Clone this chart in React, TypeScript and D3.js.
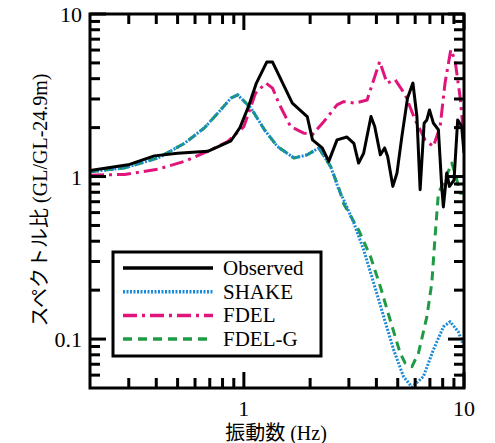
import * as d3 from "d3";
import { useEffect, useRef } from "react";

// данные (частота, Гц / спектральное отношение)
const observedFreq = [0.2, 0.298, 0.392, 0.5, 0.685, 0.874, 0.96, 1.05, 1.14, 1.27, 1.35, 1.66, 1.94, 2.05, 2.27, 2.43, 2.65, 2.94, 3.16, 3.32, 3.5, 3.78, 3.93, 4.17, 4.36, 4.5, 4.75, 4.96, 5.22, 5.54, 5.86, 6.11, 6.32, 6.59, 6.78, 6.97, 7.26, 7.65, 7.92, 8.06, 8.35, 8.59, 9.01, 9.36, 9.76, 10];
const observedRatio = [1.09, 1.18, 1.34, 1.39, 1.43, 1.66, 2.0, 2.7, 3.76, 5.06, 5.06, 2.83, 2.34, 1.68, 1.5, 1.24, 1.68, 1.75, 1.6, 1.21, 1.39, 2.34, 2.03, 1.36, 1.5, 1.33, 0.87, 1.05, 1.76, 3.04, 3.76, 2.34, 0.83, 2.13, 2.23, 2.57, 2.13, 1.94, 0.87, 0.65, 1.05, 0.87, 0.95, 2.23, 2.03, 1.4];

const shakeFreq = [0.2, 0.287, 0.407, 0.537, 0.661, 0.76, 0.874, 0.937, 1.076, 1.24, 1.42, 1.69, 1.94, 2.19, 2.48, 2.7, 2.84, 3.16, 3.5, 3.89, 4.32, 4.79, 5.31, 5.8, 6.54, 7.26, 8.06, 8.65, 9.42, 10];
const shakeRatio = [1.07, 1.13, 1.3, 1.6, 1.99, 2.45, 3.04, 3.18, 2.64, 1.94, 1.53, 1.3, 1.36, 1.5, 1.15, 0.83, 0.72, 0.517, 0.354, 0.221, 0.137, 0.0859, 0.0588, 0.0506, 0.0588, 0.0859, 0.119, 0.128, 0.111, 0.09];

const fdelFreq = [0.2, 0.287, 0.407, 0.537, 0.685, 0.844, 1.0, 1.13, 1.26, 1.35, 1.44, 1.63, 1.87, 2.05, 2.31, 2.65, 2.84, 3.21, 3.63, 3.89, 4.14, 4.47, 4.87, 5.41, 6.0, 6.66, 7.26, 7.79, 8.2, 8.71, 9.1, 9.59, 10];
const fdelRatio = [1.02, 1.03, 1.11, 1.24, 1.43, 1.64, 2.03, 3.26, 3.76, 3.5, 2.83, 2.03, 1.85, 1.81, 2.18, 2.76, 2.89, 2.83, 2.96, 3.94, 5.1, 3.76, 3.94, 3.18, 2.23, 1.68, 1.53, 2.03, 3.76, 6.02, 5.22, 3.11, 1.72];

const fdelgFreq = [0.2, 0.287, 0.407, 0.537, 0.661, 0.76, 0.874, 0.937, 1.076, 1.24, 1.42, 1.69, 1.94, 2.19, 2.48, 2.7, 2.84, 3.32, 3.76, 4.17, 4.62, 5.13, 5.41, 5.8, 6.21, 6.78, 7.14, 7.39, 7.65, 8.06, 8.8, 9.2, 9.59, 10];
const fdelgRatio = [1.07, 1.13, 1.3, 1.6, 1.99, 2.45, 3.04, 3.18, 2.64, 1.94, 1.53, 1.3, 1.36, 1.5, 1.15, 0.85, 0.68, 0.469, 0.322, 0.21, 0.131, 0.0819, 0.071, 0.0677, 0.0819, 0.137, 0.221, 0.428, 0.79, 0.91, 1.21, 1.0, 0.79, 0.79];

const xTickLabels = [1, 10];
const yTickLabels = [0.1, 1, 10];

const series = [
    { name: "FDEL-G", x: fdelgFreq, y: fdelgRatio, color: "#1f9a45", dash: "9,6", width: 3 },
    { name: "SHAKE", x: shakeFreq, y: shakeRatio, color: "#1a8ad8", dash: "2,1.5", width: 3 },
    { name: "FDEL", x: fdelFreq, y: fdelRatio, color: "#e0147a", dash: "14,5,3,5", width: 3 },
    { name: "Observed", x: observedFreq, y: observedRatio, color: "#000000", dash: null, width: 3 }
];

const legendOrder = ["Observed", "SHAKE", "FDEL", "FDEL-G"];

const FONT = "Liberation Serif";
const FONT_JP = "Liberation Serif, Noto Sans CJK JP";

const App = () => {
    const chartRef = useRef(null);

    const margin = { top: 14, bottom: 55, left: 90, right: 31 };
    const width = 495;
    const height = 443;
    const boundsWidth = width - margin.left - margin.right;
    const boundsHeight = height - margin.top - margin.bottom;

    useEffect(() => {
        const svg = d3.select(chartRef.current);
        svg.selectAll("*").remove();

        const scaleX = d3.scaleLog().domain([0.2, 10]).range([0, boundsWidth]);
        const scaleY = d3.scaleLog().domain([0.05, 10]).range([boundsHeight, 0]);

        const g = svg.append("g").attr("transform", `translate(${margin.left}, ${margin.top})`);

        g.append("clipPath")
            .attr("id", "clip")
            .append("rect")
            .attr("width", boundsWidth)
            .attr("height", boundsHeight);

        // линии
        const line = d3.line<number>()
            .x(d => d[0])
            .y(d => d[1]);

        series.forEach(s => {
            const pts = s.x.map((v, i) => [scaleX(v), scaleY(s.y[i])]);
            g.append("path")
                .attr("d", line(pts as any))
                .attr("clip-path", "url(#clip)")
                .style("fill", "none")
                .style("stroke", s.color)
                .style("stroke-width", s.width)
                .style("stroke-linejoin", "round")
                .style("stroke-dasharray", s.dash);
        });

        // деления
        const xMinor = [0.3, 0.4, 0.5, 0.6, 0.7, 0.8, 0.9, 2, 3, 4, 5, 6, 7, 8, 9];
        const yMinor = [0.06, 0.07, 0.08, 0.09, 0.2, 0.3, 0.4, 0.5, 0.6, 0.7, 0.8, 0.9, 2, 3, 4, 5, 6, 7, 8, 9];
        const tickStyle = (sel) => sel.style("stroke", "#000").style("stroke-width", 3);

        const xTicks = xMinor.map(v => ({ v, len: 10 })).concat(xTickLabels.map(v => ({ v, len: 16 })));
        xTicks.forEach(t => {
            const x = scaleX(t.v);
            tickStyle(g.append("line").attr("x1", x).attr("x2", x).attr("y1", boundsHeight).attr("y2", boundsHeight - t.len));
            tickStyle(g.append("line").attr("x1", x).attr("x2", x).attr("y1", 0).attr("y2", t.len));
        });
        const yTicks = yMinor.map(v => ({ v, len: 10 })).concat(yTickLabels.map(v => ({ v, len: 16 })));
        yTicks.forEach(t => {
            const y = scaleY(t.v);
            tickStyle(g.append("line").attr("x1", 0).attr("x2", t.len).attr("y1", y).attr("y2", y));
            tickStyle(g.append("line").attr("x1", boundsWidth).attr("x2", boundsWidth - t.len).attr("y1", y).attr("y2", y));
        });

        // рамка
        g.append("rect")
            .attr("width", boundsWidth)
            .attr("height", boundsHeight)
            .style("fill", "none")
            .style("stroke", "#000")
            .style("stroke-width", 3);

        // подписи осей
        xTickLabels.forEach(v => {
            g.append("text")
                .attr("x", scaleX(v))
                .attr("y", boundsHeight + 28)
                .attr("text-anchor", "middle")
                .attr("font-family", FONT)
                .attr("font-size", 22)
                .text(v);
        });
        yTickLabels.forEach(v => {
            g.append("text")
                .attr("x", -8)
                .attr("y", scaleY(v) + 8)
                .attr("text-anchor", "end")
                .attr("font-family", FONT)
                .attr("font-size", 22)
                .text(v);
        });

        svg.append("text")
            .attr("x", 276)
            .attr("y", 440)
            .attr("text-anchor", "middle")
            .attr("font-family", FONT_JP)
            .attr("font-size", 20)
            .text("振動数 (Hz)");

        svg.append("text")
            .attr("transform", "translate(47, 200) rotate(-90)")
            .attr("text-anchor", "middle")
            .attr("font-family", FONT_JP)
            .attr("font-size", 20)
            .text("スペクトル比 (GL/GL-24.9m)");

        // легенда
        const legend = svg.append("g").attr("transform", "translate(113, 252)");
        legend.append("rect")
            .attr("width", 208)
            .attr("height", 104)
            .style("fill", "#fff")
            .style("stroke", "#000")
            .style("stroke-width", 3);

        legendOrder.forEach((name, i) => {
            const s = series.find(d => d.name === name);
            const y = 16 + i * 23.7;
            legend.append("line")
                .attr("x1", 10)
                .attr("x2", 100)
                .attr("y1", y)
                .attr("y2", y)
                .style("stroke", s.color)
                .style("stroke-width", s.width + 0.5)
                .style("stroke-dasharray", s.dash);
            legend.append("text")
                .attr("x", 110)
                .attr("y", y + 7)
                .attr("font-family", FONT)
                .attr("font-size", 21)
                .text(name);
        });
    }, []);

    return (
        <svg ref={chartRef} width={width} height={height} style={{ position: "absolute", left: 0, top: 0 }}> </svg>
    );
};

export default App;
